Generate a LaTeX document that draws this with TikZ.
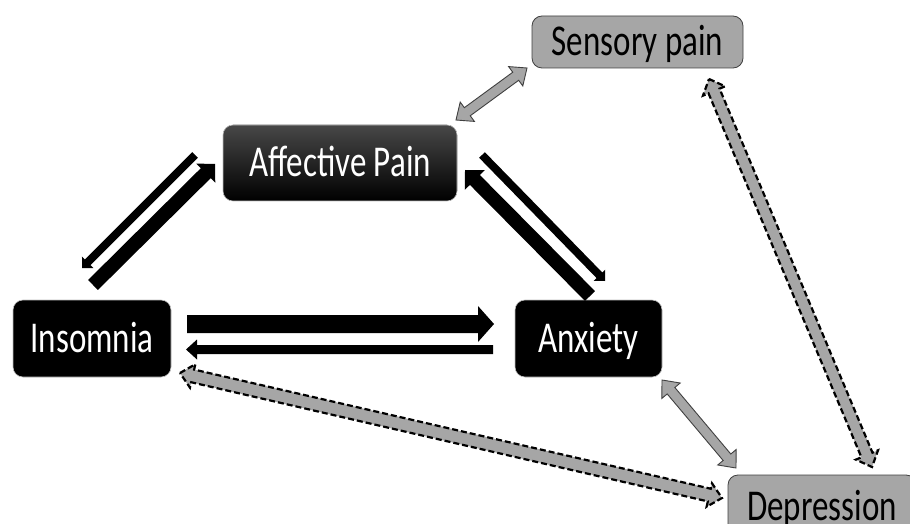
\documentclass[tikz,border=0pt]{standalone}
\usepackage{fontspec}
\setmainfont{Carlito}[FakeStretch=0.75]
\usetikzlibrary{calc}
\definecolor{boxgrey}{HTML}{A6A6A6}
\definecolor{rimgrey}{HTML}{404040}

\newcommand{\onearrow}[6][]{%
  \draw[#1] let \p1=($(#3)-(#2)$), \n1={atan2(\y1,\x1)}, \n2={veclen(\x1,\y1)-#6} in
    ($(#2)+(\n1+90:#4)$) -- ($(#2)+(\n1:\n2)+(\n1+90:#4)$) -- ($(#2)+(\n1:\n2)+(\n1+90:#5)$) -- (#3)
    -- ($(#2)+(\n1:\n2)+(\n1-90:#5)$) -- ($(#2)+(\n1:\n2)+(\n1-90:#4)$) -- ($(#2)+(\n1-90:#4)$) -- cycle;}
\newcommand{\twoarrow}[6][]{%
  \draw[#1] let \p1=($(#3)-(#2)$), \n1={atan2(\y1,\x1)}, \n2={veclen(\x1,\y1)-#6} in
    (#2) -- ($(#2)+(\n1:#6)+(\n1+90:#5)$) -- ($(#2)+(\n1:#6)+(\n1+90:#4)$) -- ($(#2)+(\n1:\n2)+(\n1+90:#4)$)
    -- ($(#2)+(\n1:\n2)+(\n1+90:#5)$) -- (#3) -- ($(#2)+(\n1:\n2)+(\n1-90:#5)$) -- ($(#2)+(\n1:\n2)+(\n1-90:#4)$)
    -- ($(#2)+(\n1:#6)+(\n1-90:#4)$) -- ($(#2)+(\n1:#6)+(\n1-90:#5)$) -- cycle;}

\begin{document}
\begin{tikzpicture}[x=1pt,y=1pt,font=\fontsize{44}{50}\selectfont,
  darkbox/.style={rectangle, rounded corners=10pt, fill=black, text=white, draw=gray!50, line width=0.6pt, inner sep=0pt, text height=28pt, text depth=0pt},
  greybox/.style={rectangle, rounded corners=10pt, fill=boxgrey, text=black, draw=rimgrey, line width=0.8pt, inner sep=0pt, text height=28pt, text depth=0pt},
  solidblk/.style={fill=black, draw=none},
  solidgrey/.style={fill=boxgrey, draw=rimgrey, line width=0.9pt, line join=miter},
  dashgrey/.style={fill=boxgrey, draw=black, line width=2.2pt, dash pattern=on 6pt off 3pt}]
  \useasboundingbox (0,0) rectangle (910,523);
  \node[greybox, minimum width=211pt, minimum height=52pt] (sens) at (637.5,481) {Sensory pain};
  \node[darkbox, top color=black!72, middle color=black, bottom color=black, minimum width=234pt, minimum height=76pt] (aff) at (340,360) {Affective Pain};
  \node[darkbox, minimum width=158pt, minimum height=77pt] (ins) at (92,184.5) {Insomnia};
  \node[darkbox, minimum width=147pt, minimum height=77pt] (anx) at (588.5,184.5) {Anxiety};
  \node[greybox, minimum width=188pt, minimum height=62pt] (dep) at (822,17) {Depression};

  \coordinate (ia1) at (93,238);   \coordinate (ia2) at (215,359);
  \coordinate (ai1) at (195,368);  \coordinate (ai2) at (82,255);
  \coordinate (na1) at (590,227);  \coordinate (na2) at (465,353);
  \coordinate (an1) at (482,368);  \coordinate (an2) at (605,242);
  \coordinate (in1) at (187,199);  \coordinate (in2) at (494,199);
  \coordinate (ni1) at (493,173.5);\coordinate (ni2) at (186,173.5);
  \coordinate (sa1) at (527,455);  \coordinate (sa2) at (456,403);
  \coordinate (nd1) at (662,143);  \coordinate (nd2) at (736,55);
  \coordinate (sd1) at (709,444);  \coordinate (sd2) at (872,56);
  \coordinate (id1) at (180,150);  \coordinate (id2) at (722,25);

  \onearrow[solidblk]{ia1}{ia2}{7}{13.5}{13}
  \onearrow[solidblk]{ai1}{ai2}{4}{8}{8}
  \onearrow[solidblk]{na1}{na2}{7}{14}{14}
  \onearrow[solidblk]{an1}{an2}{4}{8}{8}
  \onearrow[solidblk]{in1}{in2}{9}{18}{16}
  \onearrow[solidblk]{ni1}{ni2}{4.5}{10}{11}
  \twoarrow[solidgrey]{sa1}{sa2}{5}{12}{14}
  \twoarrow[solidgrey]{nd1}{nd2}{5}{12}{14}
  \twoarrow[dashgrey]{sd1}{sd2}{6}{12}{13}
  \twoarrow[dashgrey]{id1}{id2}{6.5}{12}{13}
\end{tikzpicture}
\end{document}
